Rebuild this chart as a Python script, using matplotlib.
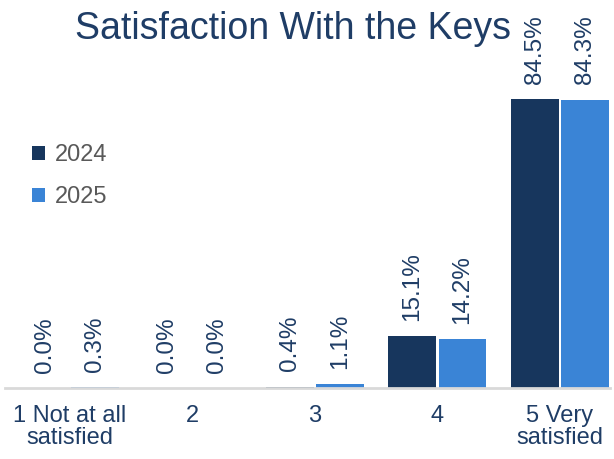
import matplotlib.pyplot as plt
import numpy as np

plt.rcParams['font.family'] = ['Liberation Sans', 'DejaVu Sans']

# data
categories = ["1 Not at all\nsatisfied", "2", "3", "4", "5 Very\nsatisfied"]
years = ["2024", "2025"]
vals_2024 = [0.0, 0.0, 0.4, 15.1, 84.5]
vals_2025 = [0.3, 0.0, 1.1, 14.2, 84.3]

navy = "#17365D"
blue = "#3A84D6"
text_col = "#1F3D66"

fig = plt.figure(figsize=(6.14, 4.59), dpi=100)
ax = fig.add_axes([5 / 614, 1 - 388 / 459, 605 / 614, 342 / 459])

x = np.arange(len(categories))
w = 0.39
off = 0.205
b1 = ax.bar(x - off, vals_2024, w, color=navy, label=years[0])
b2 = ax.bar(x + off, vals_2025, w, color=blue, label=years[1])

for bars, vals in [(b1, vals_2024), (b2, vals_2025)]:
    for rect, v in zip(bars, vals):
        ax.annotate(f"{v:.1f}%", (rect.get_x() + rect.get_width() / 2, v),
                    xytext=(0, 11), textcoords="offset points",
                    rotation=90, ha="center", va="bottom", fontsize=17.5,
                    color=text_col)

ax.set_xlim(-0.53, 4.41)
ax.set_ylim(0, 100)
ax.set_xticks(x)
ax.set_xticklabels(categories, fontsize=17, color=text_col, linespacing=1.0)
ax.tick_params(axis="x", length=0, pad=12)
ax.set_yticks([])
for s in ["top", "right", "left"]:
    ax.spines[s].set_visible(False)
ax.spines["bottom"].set_color("#D9D9D9")
ax.spines["bottom"].set_linewidth(2)

leg = ax.legend(loc="upper left", bbox_to_anchor=(0.01, 0.775), frameon=False,
                fontsize=17, handlelength=0.55, handleheight=0.55,
                handletextpad=0.4, labelspacing=0.85)
for t in leg.get_texts():
    t.set_color("#595959")

fig.text(293 / 614, 1 - 29 / 459, "Satisfaction With the Keys", ha="center",
         va="center", fontsize=27, color=text_col)

fig.savefig("out.png", dpi=100)
